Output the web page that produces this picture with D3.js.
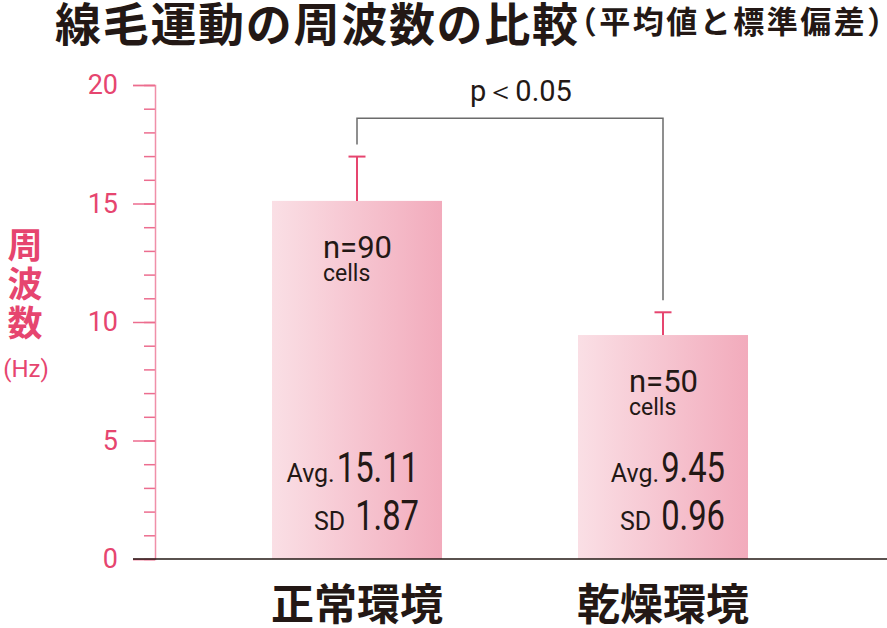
<!DOCTYPE html>
<html>
<head>
<meta charset="utf-8">
<script src="https://cdn.jsdelivr.net/npm/d3@7"></script>
<style>
  body { margin: 0; background: #fff; }
  svg { display: block; }
  text { font-family: Roboto, "Noto Sans", sans-serif; }
  .jp { font-family: "Noto Sans CJK JP", sans-serif; }
</style>
</head>
<body>
<svg id="chart"></svg>
<script>
// data
const categories = ['正常環境', '乾燥環境'];
const means = [15.11, 9.45];
const sds = [1.87, 0.96];
const counts = [90, 50];
const majorTicks = [0, 5, 10, 15, 20];
const minorTicks = d3.range(0, 21, 1);
const pLabel = 'p＜0.05';
const bracketLevel = 18.6;

const width = 887;
const height = 628;
const pink = '#e6456f';
const ink = '#231815';
const narrow = 0.78; // digits in the reference are a condensed face

const svg = d3.select('#chart')
    .attr('width', width)
    .attr('height', height);

const defs = svg.append('defs');
const grad = defs.append('linearGradient')
    .attr('id', 'barGrad')
    .attr('x1', '0%').attr('x2', '100%')
    .attr('y1', '0%').attr('y2', '0%');
grad.append('stop').attr('offset', '0%').attr('stop-color', '#fadfe5');
grad.append('stop').attr('offset', '100%').attr('stop-color', '#f2abbc');

const y = d3.scaleLinear()
    .domain([0, 20])
    .range([559, 85]);

const x = d3.scaleBand()
    .domain(categories)
    .range([204, 816])
    .paddingInner(0.4444)
    .paddingOuter(0.2222);

// title
const title = svg.append('text')
    .attr('class', 'jp')
    .attr('x', 55)
    .attr('y', 41)
    .attr('fill', ink);
title.append('tspan')
    .attr('font-size', 46)
    .attr('font-weight', 700)
    .attr('letter-spacing', 1.7)
    .text('線毛運動の周波数の比較');
title.append('tspan')
    .attr('font-size', 31)
    .attr('font-weight', 700)
    .attr('letter-spacing', 2.5)
    .attr('dx', -14)
    .attr('dy', -8)
    .text('（平均値と標準偏差）');

// y axis label
const ylab = svg.append('g').attr('fill', pink);
['周', '波', '数'].forEach((c, i) => {
    ylab.append('text')
        .attr('class', 'jp')
        .attr('x', 25)
        .attr('y', 258 + i * 39)
        .attr('text-anchor', 'middle')
        .attr('font-size', 35)
        .attr('font-weight', 700)
        .text(c);
});
ylab.append('text')
    .attr('x', 26)
    .attr('y', 377)
    .attr('text-anchor', 'middle')
    .attr('font-size', 24)
    .text('(Hz)');

// minor ticks
svg.append('g')
    .attr('transform', 'translate(155,0)')
    .call(d3.axisLeft(y).tickValues(minorTicks).tickSize(11).tickFormat(''))
    .call(g => g.select('.domain').remove())
    .call(g => g.selectAll('.tick line').attr('stroke', '#ec6d8f').attr('stroke-width', 1.5));

// major ticks + labels
svg.append('g')
    .attr('transform', 'translate(155,0)')
    .call(d3.axisLeft(y).tickValues(majorTicks).tickSize(22).tickPadding(15))
    .call(g => g.select('.domain').attr('stroke', '#f08fa9').attr('stroke-width', 1.5))
    .call(g => g.selectAll('.tick line').attr('stroke', '#ec6d8f').attr('stroke-width', 1.5))
    .call(g => g.selectAll('.tick text')
        .attr('fill', pink)
        .attr('font-size', 27)
        .attr('font-family', 'Roboto, sans-serif'));

// bars
const rows = categories.map((c, i) => ({ c, mean: means[i], sd: sds[i], n: counts[i] }));
const bars = svg.append('g').selectAll('g')
    .data(rows)
    .enter().append('g');

bars.append('rect')
    .attr('x', d => x(d.c))
    .attr('y', d => y(d.mean))
    .attr('width', x.bandwidth())
    .attr('height', d => y(0) - y(d.mean))
    .attr('fill', 'url(#barGrad)');

// error bars
const mid = d => x(d.c) + x.bandwidth() / 2;
bars.append('line')
    .attr('x1', mid)
    .attr('x2', mid)
    .attr('y1', d => y(d.mean))
    .attr('y2', d => y(d.mean + d.sd))
    .attr('stroke', pink)
    .attr('stroke-width', 2);
bars.append('line')
    .attr('x1', d => mid(d) - 8.5)
    .attr('x2', d => mid(d) + 8.5)
    .attr('y1', d => y(d.mean + d.sd))
    .attr('y2', d => y(d.mean + d.sd))
    .attr('stroke', pink)
    .attr('stroke-width', 2);

// n= labels
bars.append('text')
    .attr('x', d => mid(d) - 34)
    .attr('y', d => y(d.mean) + 57)
    .attr('fill', ink)
    .attr('font-size', 31)
    .text(d => 'n=' + d.n);
bars.append('text')
    .attr('x', d => mid(d) - 34)
    .attr('y', d => y(d.mean) + 80)
    .attr('fill', ink)
    .attr('font-size', 23)
    .text('cells');

// avg / sd labels: small prefix + condensed big number, right aligned
function statLabel(sel, baseline, prefix, gap, value) {
    sel.each(function(d) {
        const g = d3.select(this);
        const xr = mid(d) + 62;
        const num = g.append('text')
            .attr('transform', `translate(${xr},${baseline}) scale(${narrow},1)`)
            .attr('text-anchor', 'end')
            .attr('font-size', 42)
            .attr('fill', ink)
            .text(value(d));
        const w = num.node().getComputedTextLength() * narrow;
        g.append('text')
            .attr('x', xr - w - gap)
            .attr('y', baseline)
            .attr('text-anchor', 'end')
            .attr('font-size', 25)
            .attr('fill', ink)
            .text(prefix);
    });
}
statLabel(bars, 482, 'Avg.', 2, d => d.mean.toFixed(2));
statLabel(bars, 530, 'SD', 10, d => d.sd.toFixed(2));

// baseline
svg.append('line')
    .attr('x1', 133)
    .attr('x2', width)
    .attr('y1', y(0))
    .attr('y2', y(0))
    .attr('stroke', ink)
    .attr('stroke-width', 1.5);

// x labels
svg.append('g').selectAll('text')
    .data(categories)
    .enter().append('text')
    .attr('class', 'jp')
    .attr('x', d => x(d) + x.bandwidth() / 2)
    .attr('y', 620)
    .attr('text-anchor', 'middle')
    .attr('font-size', 43)
    .attr('font-weight', 700)
    .attr('fill', ink)
    .text(d => d);

// significance bracket
const cx = rows.map(mid);
const tops = rows.map(d => y(d.mean + d.sd) - 12);
svg.append('path')
    .attr('d', `M${cx[0]},${tops[0]}V${y(bracketLevel)}H${cx[1]}V${tops[1]}`)
    .attr('fill', 'none')
    .attr('stroke', '#6b6b6b')
    .attr('stroke-width', 1.5);
svg.append('text')
    .attr('x', (cx[0] + cx[1]) / 2 + 11)
    .attr('y', 101)
    .attr('text-anchor', 'middle')
    .attr('font-size', 29)
    .attr('fill', ink)
    .text(pLabel);
</script>
</body>
</html>
